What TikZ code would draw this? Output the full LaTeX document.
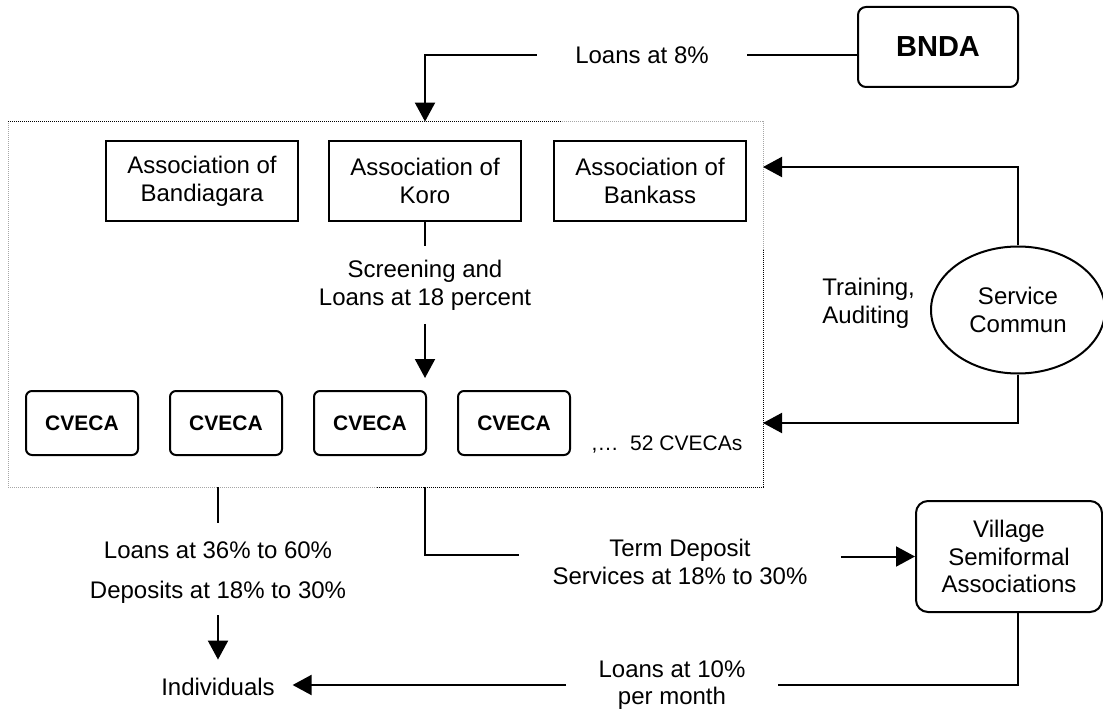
\documentclass[tikz,border=0pt]{standalone}
\usepackage{fontspec}
\setmainfont{Liberation Sans}
\usetikzlibrary{arrows.meta,shapes.geometric}
\tikzset{
  box/.style={draw, line width=1pt, minimum width=96pt, minimum height=40pt, align=center,
    font=\fontsize{12}{13.8}\selectfont, inner sep=0pt},
  cbox/.style={draw, line width=1pt, rounded corners=3pt, minimum width=56pt, minimum height=32pt,
    font=\fontsize{10.5}{12}\selectfont\bfseries, inner sep=0pt},
  lbl/.style={align=center, font=\fontsize{12}{13.8}\selectfont},
  conn/.style={line width=1pt},
  arr/.style={line width=1pt, -{Triangle[length=9.5pt,width=10pt]}},
  dotb/.style={line width=0.5pt, dash pattern=on 0.5pt off 0.5pt},
  dotg/.style={dotb, black!35},
}
\begin{document}
\begin{tikzpicture}[x=0.5pt,y=-0.5pt]
\useasboundingbox (0,0) rectangle (1103,711);

% big dotted frame
\node[draw=none, minimum width=377.5pt, minimum height=182.5pt, inner sep=0pt] (cvbox) at (385.5,304.5) {};
\draw[dotb] (8,122) -- (562,122);
\draw[dotg] (562,122) -- (763,122) -- (763,250);
\draw[dotb] (763,250) -- (763,487) -- (377,487);
\draw[dotg] (377,487) -- (8,487) -- (8,122);

% top
\node[box, rounded corners=4pt, minimum width=80pt, minimum height=40pt,
      font=\fontsize{14.5}{16}\selectfont\bfseries] (bnda) at (938,47) {BNDA};
\node[lbl, inner xsep=19pt] (l8) at (642,55) {Loans at 8\%};

% associations
\node[box] (band) at (202,181) {Association of\\Bandiagara};
\node[box] (koro) at (425,181) {Association of\\Koro};
\node[box] (bank) at (650,181) {Association of\\Bankass};

\draw[conn] (bnda.west |- l8.east) -- (l8.east);
\draw[arr] (l8.west) -| (koro.north |- cvbox.north);

\node[lbl, inner ysep=6.7pt] (scr) at (425,285) {Screening and\\Loans at 18 percent};
\coordinate (scrend) at (425,378);
\draw[conn] (koro.south) -- (scr.north);
\draw[arr] (scr.south) -- (scrend);

% CVECAs
\node[cbox] (c1) at (82,423) {CVECA};
\node[cbox] (c2) at (226,423) {CVECA};
\node[cbox] (c3) at (370,423) {CVECA};
\node[cbox] (c4) at (514,423) {CVECA};
\node[font=\fontsize{10.5}{12}\selectfont, inner sep=0pt] (more) at (667,445) {,…\ \ 52 CVECAs};

% service commun
\node[ellipse, draw, line width=1pt, minimum width=87pt, minimum height=63.5pt, inner sep=0pt,
      align=center, font=\fontsize{12}{13.8}\selectfont] (sc) at (1018,310) {Service\\Commun};
\node[lbl, align=left, anchor=west, inner sep=0pt] (train) at (822,303) {Training,\\Auditing};
\coordinate (in1) at (763,167);
\coordinate (in2) at (763,423);
\draw[arr] (sc.north) |- (in1);
\draw[arr] (sc.south) |- (in2);

% bottom left
\node[lbl, inner ysep=9.1pt] (l36) at (218,550) {Loans at 36\% to 60\%};
\node[lbl, inner ysep=5.8pt] (dep) at (218,592) {Deposits at 18\% to 30\%};
\node[lbl, inner xsep=8.75pt, inner ysep=9.1pt] (ind) at (218,687) {Individuals};
\draw[conn] (l36.north |- cvbox.south) -- (l36.north);
\draw[arr] (dep.south) -- (dep.south |- ind.north);

% term deposit
\node[lbl, inner xsep=16.5pt] (tdl) at (680,562) {Term Deposit\\Services at 18\% to 30\%};
\node[box, rounded corners=6pt, minimum width=93pt, minimum height=55.5pt] (vsa) at (1009,556.5)
      {Village\\Semiformal\\Associations};
\draw[conn] (koro.south |- cvbox.south) |- ([yshift=3.5pt]tdl.west);
\draw[arr] (tdl.east |- vsa.west) -- (vsa.west);

% loans 10%
\node[lbl, inner xsep=16pt] (l10) at (672,685) {Loans at 10\%\\per month};
\draw[conn] (vsa.south -| sc.south) |- (l10.east);
\draw[arr] (l10.west) -- (l10.west -| ind.east);
\end{tikzpicture}
\end{document}
